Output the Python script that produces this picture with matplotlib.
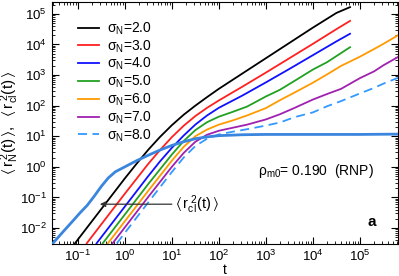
import numpy as np
import matplotlib
matplotlib.use("Agg")
import matplotlib.pyplot as plt
from matplotlib.ticker import LogLocator, NullFormatter, FixedLocator

plt.rcParams['font.family'] = ['Liberation Sans', 'DejaVu Sans']
plt.rcParams['mathtext.fontset'] = 'custom'
plt.rcParams['mathtext.rm'] = 'Liberation Sans'
plt.rcParams['mathtext.it'] = 'Liberation Sans'
plt.rcParams['mathtext.bf'] = 'Liberation Sans:bold'
plt.rcParams['mathtext.default'] = 'regular'
plt.rcParams['axes.unicode_minus'] = False

# ---- data (log10 of t and of MSD) ----
sigma_labels = ["2.0", "3.0", "4.0", "5.0", "6.0", "7.0", "8.0"]
colors = ["#000000", "#ff2020", "#1010ff", "#22a022", "#ff9a00", "#a020b0", "#3399ff"]

logt_s2 = [-1.06, -0.5, 0.0, 0.25, 0.5, 0.75, 1.0, 1.25, 1.5, 1.75, 2.0, 2.5, 3.0, 3.5, 4.0, 4.5, 4.79]
logr_s2 = [-2.5, -1.38, -0.38, 0.1, 0.56, 0.98, 1.36, 1.7, 2.0, 2.28, 2.55, 3.05, 3.55, 4.05, 4.55, 5.03, 5.22]

logt_s3 = [-0.81, -0.5, 0.0, 0.25, 0.5, 0.75, 1.0, 1.25, 1.5, 1.75, 2.0, 2.5, 3.0, 3.5, 4.0, 4.5, 4.79]
logr_s3 = [-2.5, -1.88, -0.88, -0.39, 0.1, 0.55, 0.97, 1.34, 1.66, 1.93, 2.17, 2.62, 3.08, 3.55, 4.02, 4.5, 4.77]

logt_s4 = [-0.6, 0.0, 0.25, 0.5, 0.75, 1.0, 1.25, 1.5, 1.75, 2.0, 2.5, 3.0, 3.5, 4.0, 4.5, 4.79]
logr_s4 = [-2.5, -1.3, -0.8, -0.3, 0.18, 0.62, 1.02, 1.38, 1.68, 1.93, 2.33, 2.76, 3.2, 3.65, 4.1, 4.35]

logt_s5 = [-0.47, 0.0, 0.5, 1.0, 1.25, 1.5, 1.75, 2.0, 2.3, 2.6, 3.0, 3.3, 3.6, 4.0, 4.3, 4.6, 4.79]
logr_s5 = [-2.5, -1.56, -0.56, 0.4, 0.84, 1.2, 1.46, 1.64, 1.8, 1.97, 2.3, 2.52, 2.8, 3.18, 3.42, 3.72, 3.91]

logt_s6 = [-0.36, 0.0, 0.5, 1.0, 1.25, 1.5, 1.75, 2.0, 2.3, 2.6, 3.0, 3.3, 3.6, 4.0, 4.3, 4.6, 5.0, 5.3, 5.5, 5.81]
logr_s6 = [-2.5, -1.78, -0.78, 0.2, 0.65, 1.0, 1.22, 1.38, 1.52, 1.68, 1.92, 2.18, 2.42, 2.75, 3.02, 3.3, 3.6, 3.85, 4.02, 4.3]

logt_s7 = [-0.26, 0.0, 0.5, 1.0, 1.25, 1.5, 1.75, 2.0, 2.3, 2.6, 3.0, 3.3, 3.6, 4.0, 4.3, 4.6, 5.0, 5.3, 5.5, 5.81]
logr_s7 = [-2.5, -1.98, -0.98, 0.0, 0.45, 0.82, 1.05, 1.18, 1.28, 1.38, 1.55, 1.72, 1.92, 2.2, 2.38, 2.55, 2.9, 3.12, 3.32, 3.59]

logt_s8 = [-0.17, 0.0, 0.5, 1.0, 1.25, 1.5, 1.75, 2.0, 2.3, 2.6, 3.0, 3.3, 3.6, 4.0, 4.3, 4.6, 5.0, 5.3, 5.5, 5.81]
logr_s8 = [-2.5, -2.16, -1.16, -0.17, 0.3, 0.68, 0.92, 1.06, 1.15, 1.23, 1.35, 1.45, 1.62, 1.78, 1.98, 2.15, 2.4, 2.58, 2.72, 2.91]

logt_cl = [-1.53, -1.3, -1.1, -0.95, -0.8, -0.65, -0.5, -0.35, -0.2, 0.0, 0.25, 0.5, 0.75, 1.0, 1.25,
           1.5, 1.75, 2.0, 2.5, 3.0, 4.0, 5.0, 5.81]
logr_cl = [-2.5, -2.1, -1.76, -1.5, -1.26, -0.96, -0.64, -0.36, -0.16, 0.0, 0.2, 0.38, 0.55, 0.7, 0.82,
           0.92, 0.98, 1.02, 1.05, 1.06, 1.06, 1.06, 1.07]

x_ticks = [1e-1, 1e0, 1e1, 1e2, 1e3, 1e4, 1e5]
y_ticks = [1e-2, 1e-1, 1e0, 1e1, 1e2, 1e3, 1e4, 1e5]

series_t = [logt_s2, logt_s3, logt_s4, logt_s5, logt_s6, logt_s7, logt_s8]
series_r = [logr_s2, logr_s3, logr_s4, logr_s5, logr_s6, logr_s7, logr_s8]

fig = plt.figure(figsize=(3.99, 2.76), dpi=100)
ax = fig.add_axes([0.130, 0.116, 0.8675, 0.877])

for lab, c, lt, lr in zip(sigma_labels, colors, series_t, series_r):
    kw = dict(color=c, lw=1.3, label=r'$\sigma_N$=' + lab)
    if lab == "8.0":
        kw.update(ls='--', dashes=(5, 3))
    ax.plot(np.power(10.0, lt), np.power(10.0, lr), **kw)

ax.plot(np.power(10.0, logt_cl), np.power(10.0, logr_cl), color="#3a85dd", lw=2.0, zorder=5)

ax.set_xscale('log')
ax.set_yscale('log')
ax.set_xlim(10**-1.55, 10**5.81)
ax.set_ylim(10**-2.52, 10**5.39)

ax.xaxis.set_major_locator(FixedLocator(x_ticks))
ax.yaxis.set_major_locator(FixedLocator(y_ticks))
for axis in (ax.xaxis, ax.yaxis):
    axis.set_minor_locator(LogLocator(base=10, subs=np.arange(2, 10), numticks=20))
    axis.set_minor_formatter(NullFormatter())
ax.tick_params(which='both', direction='in', top=True, right=True, labelsize=9.5)
ax.tick_params(which='major', length=5, width=0.8)
ax.tick_params(which='minor', length=2.5, width=0.6)
for s in ax.spines.values():
    s.set_linewidth(0.8)

ax.set_xlabel('t', fontsize=10)
ax.xaxis.set_label_coords(0.5, -0.08)
ax.set_ylabel(r'$\langle\,r_N^{\;2}(t)\,\rangle,\;\;\langle\,r_{cl}^{\;2}(t)\,\rangle$', fontsize=11)
ax.yaxis.set_label_coords(-0.088, 0.5)

leg = ax.legend(loc='upper left', bbox_to_anchor=(0.04, 0.975), frameon=False, fontsize=10,
                handlelength=1.5, handletextpad=0.6, labelspacing=0.1)

ax.annotate(r'$\langle\,r_{cl}^{\;2}(t)\,\rangle$', xy=(10**-0.53, 10**-1.22), xytext=(10**1.06, 10**-1.22),
            fontsize=10.5, va='center', ha='left',
            arrowprops=dict(arrowstyle='-|>', color='#333333', lw=0.9, mutation_scale=8,
                            shrinkA=0, shrinkB=0))
ax.text(0.595, 0.285, r'$\rho_{m0}$= 0.190  (RNP)', transform=ax.transAxes, fontsize=10)
ax.text(0.912, 0.075, 'a', transform=ax.transAxes, fontsize=11, fontweight='bold')

fig.savefig('out.png', dpi=100)
